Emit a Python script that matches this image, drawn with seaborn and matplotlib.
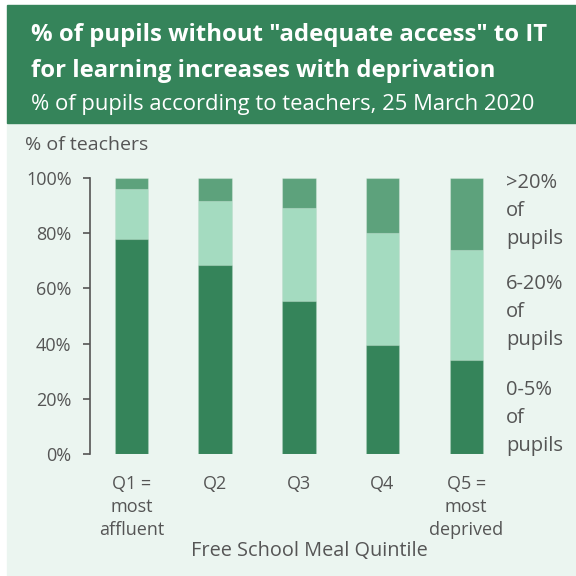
import matplotlib
matplotlib.use("Agg")
import matplotlib.pyplot as plt
import seaborn as sns
import pandas as pd
from matplotlib.patches import Rectangle

# Share of teachers by how many of their pupils lack adequate IT access
quintiles = ["Q1 =\nmost\naffluent", "Q2", "Q3", "Q4", "Q5 =\nmost\ndeprived"]
low_share = [78.0, 68.5, 55.5, 39.5, 34.0]    # 0-5% of pupils
mid_share = [18.0, 23.0, 33.5, 40.5, 40.0]    # 6-20% of pupils
high_share = [4.0, 8.5, 11.0, 20.0, 26.0]     # >20% of pupils
band_labels = [">20%\nof\npupils", "6-20%\nof\npupils", "0-5%\nof\npupils"]
y_ticks = [0, 20, 40, 60, 80, 100]

df = pd.DataFrame({"quintile": quintiles, "low": low_share,
                   "mid": mid_share, "high": high_share})
df["low_mid"] = df["low"] + df["mid"]
df["total"] = df["low_mid"] + df["high"]

DARK = "#35845A"
MID = "#5DA27C"
LIGHT = "#A4DBC0"
PANEL = "#EBF5F0"
TEXT = "#555555"

sns.set_theme(style="white")
plt.rcParams["font.family"] = ["Open Sans", "DejaVu Sans"]

W = H = 576
fig = plt.figure(figsize=(5.76, 5.76), dpi=100, facecolor="white")

# panel and header blocks (pixel coordinates converted to figure fractions)
def px_rect(x0, y0, x1, y1, color):
    fig.patches.append(Rectangle((x0 / W, 1 - y1 / H), (x1 - x0) / W, (y1 - y0) / H,
                                 transform=fig.transFigure, color=color, zorder=-5))

px_rect(7, 122, 576, 576, PANEL)
px_rect(7, 5, 576, 123, DARK)

ax = fig.add_axes([89.6 / W, 1 - 454 / H, 418.5 / W, 276 / H])
ax.set_facecolor("none")
ax.set_zorder(2)

edge = dict(edgecolor=(1, 1, 1, 0.25), linewidth=0.8)
sns.barplot(data=df, x="quintile", y="total", color=MID, width=0.4,
            saturation=1, ax=ax, **edge)
sns.barplot(data=df, x="quintile", y="low_mid", color=LIGHT, width=0.4,
            saturation=1, ax=ax, **edge)
sns.barplot(data=df, x="quintile", y="low", color=DARK, width=0.4,
            saturation=1, ax=ax, **edge)

ax.set_xlim(-0.5, 4.5)
ax.set_ylim(0, 100)
ax.set_yticks(y_ticks)
ax.set_yticklabels([f"{v}%" for v in y_ticks])
ax.set_xlabel("")
ax.set_ylabel("")
for s in ["top", "right", "bottom"]:
    ax.spines[s].set_visible(False)
ax.spines["left"].set_color(TEXT)
ax.spines["left"].set_linewidth(1.2)
ax.tick_params(axis="y", left=True, length=5, width=1.2, color=TEXT,
               labelsize=13, labelcolor=TEXT, pad=8)
ax.tick_params(axis="x", bottom=False, length=0, labelsize=13,
               labelcolor=TEXT, pad=15)
for lbl in ax.get_xticklabels():
    lbl.set_linespacing(1.38)

# band labels to the right of the last bar
for lab, yv in zip(band_labels, [173, 274, 380]):
    fig.text(506 / W, 1 - yv / H, lab, ha="left", va="top", fontsize=14.5,
             color=TEXT, linespacing=1.52)

fig.text(25 / W, 1 - 145 / H, "% of teachers", ha="left", va="center",
         fontsize=14, color=TEXT)
fig.text(309 / W, 1 - 551 / H, "Free School Meal Quintile", ha="center",
         va="center", fontsize=14.3, color=TEXT)

fig.text(31 / W, 1 - 41 / H, "% of pupils without \"adequate access\" to IT",
         ha="left", va="baseline", fontsize=17.2, fontweight="bold", color="white")
fig.text(31 / W, 1 - 77 / H, "for learning increases with deprivation",
         ha="left", va="baseline", fontsize=17.2, fontweight="bold", color="white")
fig.text(31 / W, 1 - 110 / H, "% of pupils according to teachers, 25 March 2020",
         ha="left", va="baseline", fontsize=15.8, color="white")

fig.savefig("out.png", dpi=100, facecolor="white")
